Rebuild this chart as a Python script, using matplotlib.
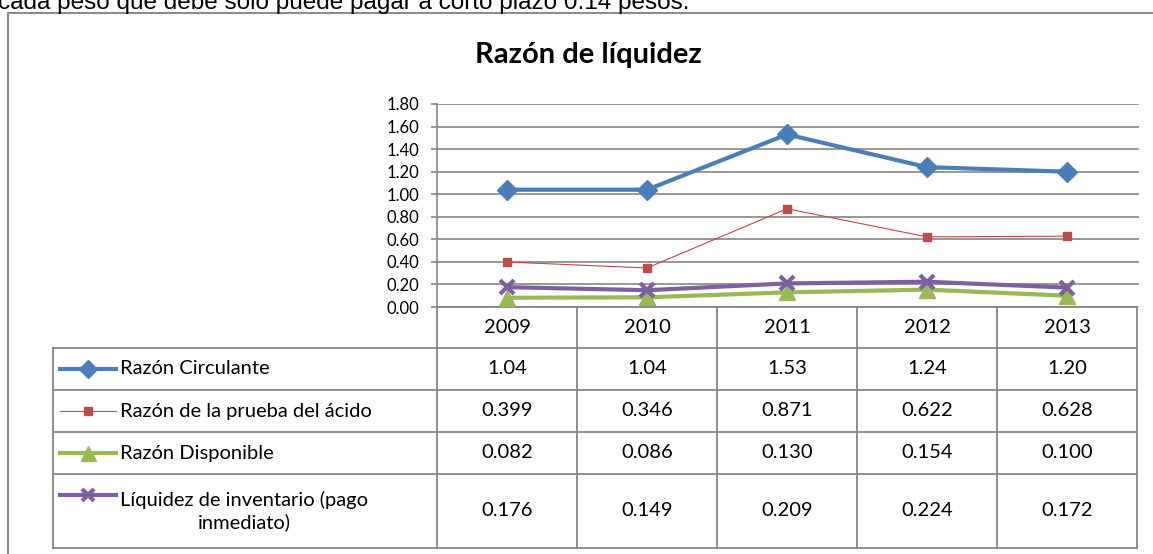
import matplotlib.pyplot as plt
from matplotlib.lines import Line2D

# Data
years = ['2009', '2010', '2011', '2012', '2013']
circulante = [1.04, 1.04, 1.53, 1.24, 1.20]
acido = [0.399, 0.346, 0.871, 0.622, 0.628]
disponible = [0.082, 0.086, 0.130, 0.154, 0.100]
inventario = [0.176, 0.149, 0.209, 0.224, 0.172]
series_names = ['Razón Circulante', 'Razón de la prueba del ácido',
                'Razón Disponible', 'Líquidez de inventario (pago\ninmediato)']
yticks = [0.0, 0.2, 0.4, 0.6, 0.8, 1.0, 1.2, 1.4, 1.6, 1.8]

W, H = 1153, 554
FONT = 'Lato'
GRID = '#868686'

fig = plt.figure(figsize=(W / 100, H / 100), dpi=100)

# pixel canvas for frame, text and table
bg = fig.add_axes([0, 0, 1, 1])
bg.set_xlim(0, W)
bg.set_ylim(H, 0)
bg.axis('off')

bg.text(-2, 9, 'cada peso que debe sólo puede pagar a corto plazo 0.14 pesos.',
        family='Liberation Sans', fontsize=17.5, va='baseline', ha='left')

# chart border
bg.plot([8, 8, W + 5], [H + 5, 12.5, 12.5], color='#8c8c8c', lw=1.5)

bg.text(588, 55, 'Razón de líquidez', family=FONT, fontweight='bold',
        fontsize=21, ha='center', va='center')

# plot area
left, right, top, bottom = 437, 1137, 104, 307
ax = fig.add_axes([left / W, 1 - bottom / H, (right + 2 - left) / W, (bottom - top) / H])
x = list(range(len(years)))
styles = [
    dict(color='#4A7EBB', lw=3, marker='D', ms=10),
    dict(color='#BE4B48', lw=0.8, marker='s', ms=6),
    dict(color='#98B954', lw=3, marker='^', ms=12),
    dict(color='#7D60A0', lw=3, marker='x', ms=10, mew=3),
]
for vals, st in zip([circulante, acido, disponible, inventario], styles):
    ax.plot(x, vals, zorder=3, clip_on=False, **st)

ax.set_xlim(-0.5, len(years) - 0.5 + 2 / 140)
ax.set_ylim(0, 1.8)
ax.set_yticks(yticks)
ax.set_yticklabels(['%.2f' % v for v in yticks], family=FONT, fontsize=12)
ax.set_xticks([])
ax.grid(axis='y', color=GRID, lw=1.2)
ax.set_axisbelow(True)
for s in ['top', 'right', 'bottom']:
    ax.spines[s].set_visible(False)
ax.spines['left'].set_color(GRID)
ax.spines['left'].set_linewidth(1.2)
ax.tick_params(axis='y', length=4, color=GRID, width=1.2, pad=9)
ax.patch.set_alpha(0)

# data table
col_edges = [left + 140 * i for i in range(len(years) + 1)]
row_edges = [348, 390, 432, 474, 548]
tkw = dict(color=GRID, lw=1.3)
bg.plot([left, right], [bottom, bottom], **tkw)
for yv in row_edges:
    bg.plot([53, right], [yv, yv], **tkw)
bg.plot([53, 53], [row_edges[0], row_edges[-1]], **tkw)
for xv in col_edges:
    bg.plot([xv, xv], [bottom, row_edges[-1]], **tkw)

FS = 14.5
for i, yr in enumerate(years):
    bg.text((col_edges[i] + col_edges[i + 1]) / 2, (bottom + row_edges[0]) / 2, yr,
            family=FONT, fontsize=FS, ha='center', va='center')

all_vals = [circulante, acido, disponible, inventario]
fmts = ['%.2f', '%.3f', '%.3f', '%.3f']
for r, (vals, fmt, name, st) in enumerate(zip(all_vals, fmts, series_names, styles)):
    yc = (row_edges[r] + row_edges[r + 1]) / 2
    for i, v in enumerate(vals):
        bg.text((col_edges[i] + col_edges[i + 1]) / 2, yc, fmt % v,
                family=FONT, fontsize=FS, ha='center', va='center')
    if '\n' in name:
        ty = row_edges[r] + 21
        bg.text(120, yc, name, family=FONT, fontsize=FS, ha='left', va='center',
                multialignment='center', linespacing=1.25)
    else:
        ty = yc
        bg.text(120, yc, name, family=FONT, fontsize=FS, ha='left', va='center')
    key = dict(st)
    key['ms'] = key['ms'] * 0.9
    bg.add_line(Line2D([60, 116], [ty, ty], **{k: v for k, v in key.items() if k != 'marker'}))
    bg.plot([88], [ty], linestyle='none', **{k: v for k, v in key.items() if k not in ('lw',)})

fig.savefig('out.png', dpi=100)
